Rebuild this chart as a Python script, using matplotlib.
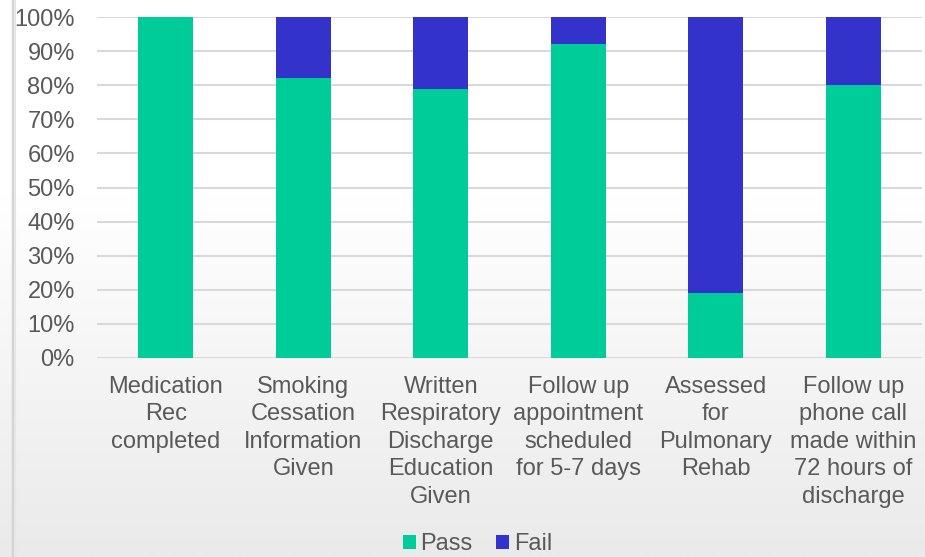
import matplotlib
matplotlib.use("Agg")
import matplotlib.pyplot as plt
import numpy as np
from matplotlib.lines import Line2D

categories = ["Medication\nRec\ncompleted",
              "Smoking\nCessation\nInformation\nGiven",
              "Written\nRespiratory\nDischarge\nEducation\nGiven",
              "Follow up\nappointment\nscheduled\nfor 5-7 days",
              "Assessed\nfor\nPulmonary\nRehab",
              "Follow up\nphone call\nmade within\n72 hours of\ndischarge"]
pass_vals = [100, 82, 79, 92, 19, 80]
fail_vals = [0, 18, 21, 8, 81, 20]
yticks = [0, 10, 20, 30, 40, 50, 60, 70, 80, 90, 100]

PASS_C = "#00CC99"
FAIL_C = "#3333CC"
TXT = "#595959"

plt.rcParams['font.family'] = ['Liberation Sans', 'DejaVu Sans']

fig = plt.figure(figsize=(9.25, 5.57), dpi=100)

# background gradient
bg = fig.add_axes([0, 0, 1, 1], zorder=-10)
grad = np.linspace(0, 1, 256).reshape(-1, 1)
top = np.array([1.0, 1.0, 1.0])
bot = np.array([0xEA, 0xEA, 0xEA]) / 255.0
w = np.clip((grad - 0.35) / 0.65, 0, 1)
img = top * (1 - w) + bot * w
img = img.reshape(256, 1, 3)
bg.imshow(img, aspect='auto', extent=[0, 1, 0, 1], origin='upper')
bg.set_xlim(0, 1); bg.set_ylim(0, 1)
bg.axis('off')
fig.add_artist(Line2D([12.5/925, 12.5/925], [0, 1], color="#D4D4D4", lw=2.5, transform=fig.transFigure))
fig.add_artist(Line2D([14.5/925, 14.5/925], [0, 1], color="#E6E6E6", lw=1.5, transform=fig.transFigure))

ax = fig.add_axes([97/925, (557-358)/557, (922-97)/925, (358-17)/557])
ax.set_facecolor('none')
x = np.arange(len(categories))
ax.bar(x, pass_vals, width=0.4, color=PASS_C, label="Pass", zorder=3)
ax.bar(x, fail_vals, width=0.4, bottom=pass_vals, color=FAIL_C, label="Fail", zorder=3)

ax.set_xlim(-0.5, len(categories) - 0.5)
ax.set_ylim(0, 100)
ax.set_yticks(yticks)
ax.set_yticklabels([f"{v}%" for v in yticks])
ax.yaxis.grid(True, color="#D9D9D9", lw=1.5, zorder=0)
ax.set_xticks(x)
ax.set_xticklabels(categories, linespacing=1.32)
ax.tick_params(axis='both', length=0, labelsize=17, colors=TXT)
ax.tick_params(axis='x', pad=13)
ax.tick_params(axis='y', pad=16)
for s in ax.spines.values():
    s.set_visible(False)

leg = fig.legend(loc='center', bbox_to_anchor=(0.516, 13/557), ncol=2, frameon=False,
                 fontsize=17, handlelength=0.55, handleheight=0.55, handletextpad=0.2,
                 columnspacing=1.0, labelcolor=TXT, borderpad=0.1)

fig.savefig("out.png", dpi=100)
